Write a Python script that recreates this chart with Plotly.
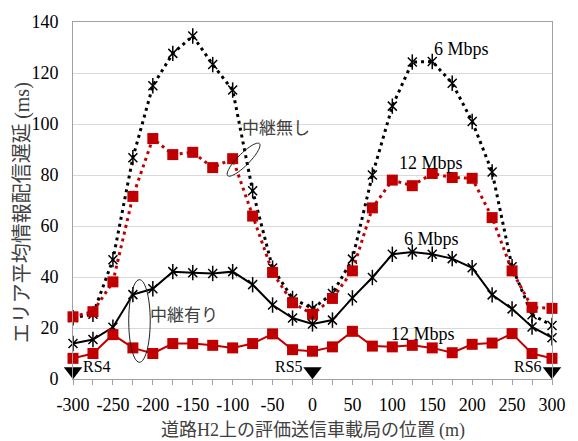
import numpy as np
import plotly.graph_objects as go

# ---------------- data ----------------
positions = list(range(-300, 301, 25))
no_relay_6mbps = [24.0, 25.4, 46.8, 86.8, 115.0, 127.7, 134.5, 123.3, 113.3, 73.8, 43.5, 31.6,
                  27.6, 33.5, 47.0, 80.0, 107.0, 124.3, 124.5, 116.0, 101.0, 81.2, 44.0, 25.2, 21.0]
no_relay_12mbps = [24.4, 26.4, 38.1, 71.6, 94.3, 88.0, 88.9, 82.9, 86.4, 63.9, 41.8, 29.9,
                   25.4, 31.6, 42.4, 67.1, 78.0, 75.8, 80.6, 79.0, 78.7, 63.3, 42.4, 28.1, 27.7]
relay_6mbps = [13.9, 15.5, 20.3, 33.1, 35.4, 42.1, 41.7, 41.4, 42.1, 37.0, 29.0, 23.9,
               21.6, 23.1, 31.8, 39.8, 48.9, 49.8, 48.9, 47.2, 43.6, 33.0, 27.5, 20.4, 16.2]
relay_12mbps = [8.1, 10.0, 17.4, 12.2, 10.0, 13.9, 13.9, 13.2, 12.2, 13.9, 17.7, 11.5,
                10.9, 12.6, 18.7, 12.9, 12.6, 13.2, 12.2, 10.3, 13.6, 14.1, 17.8, 10.0, 8.1]

rs_positions = [-300, 0, 300]
rs_labels = ["RS4", "RS5", "RS6"]
x_ticks = list(range(-300, 301, 50))
x_tick_labels = [str(v) for v in x_ticks]
y_ticks = list(range(0, 141, 20))
y_tick_labels = [str(v) for v in y_ticks]

series_labels = ["6 Mbps", "12 Mbps", "6 Mbps", "12 Mbps"]
series_label_pos = [(187, 129.3), (148, 84.8), (148.5, 54.9), (139, 17.8)]
group_labels = ["中継無し", "中継有り"]

# ---------------- style ----------------
RED = "#C00000"
SERIF = "Liberation Serif"
JP = "Noto Sans CJK JP"
W, H = 578, 441
ML, MR, MT, MB = 73, 15, 16, 62
PW, PH = W - ML - MR, H - MT - MB
XR = (-300, 300)
YR = (0, 140)
sx = PW / (XR[1] - XR[0])
sy = PH / (YR[1] - YR[0])
DOT = "3px,4px"

fig = go.Figure()


def star_trace(y, dash, width):
    fig.add_trace(go.Scatter(
        x=positions, y=y, mode="lines+markers",
        line=dict(color="black", width=width, dash=dash),
        marker=dict(symbol="x-thin-open", size=9, color="black",
                    line=dict(color="black", width=1.5)),
        cliponaxis=False, showlegend=False))
    fig.add_trace(go.Scatter(
        x=positions, y=y, mode="markers",
        marker=dict(symbol="line-ns-open", size=11, color="black",
                    line=dict(color="black", width=1.5)),
        cliponaxis=False, showlegend=False, hoverinfo="skip"))


def square_trace(y, dash, width):
    fig.add_trace(go.Scatter(
        x=positions, y=y, mode="lines+markers",
        line=dict(color=RED, width=width, dash=dash),
        marker=dict(symbol="square", size=11, color=RED),
        cliponaxis=False, showlegend=False))


star_trace(no_relay_6mbps, DOT, 3)
square_trace(no_relay_12mbps, DOT, 3)
star_trace(relay_6mbps, "solid", 2)
square_trace(relay_12mbps, "solid", 2)

# RS markers
fig.add_trace(go.Scatter(
    x=rs_positions, y=[3] * len(rs_positions), mode="markers",
    marker=dict(symbol="triangle-down", size=16, color="black"),
    cliponaxis=False, showlegend=False))

annotations = []
for xpos, lab in zip(rs_positions, rs_labels):
    left = xpos == rs_positions[0]
    annotations.append(dict(
        x=xpos, y=5, xref="x", yref="y", text=lab, showarrow=False,
        xanchor="left" if left else "right", xshift=8 if left else -8,
        font=dict(family=SERIF, size=16, color="black")))

for lab, (lx, ly) in zip(series_labels, series_label_pos):
    annotations.append(dict(x=lx, y=ly, xref="x", yref="y", text=lab, showarrow=False,
                            font=dict(family=SERIF, size=18, color="black")))

# group labels (中継無し / 中継有り)
annotations.append(dict(x=(281 - ML) / sx + XR[0], y=(379.3 - 123) / sy, xref="x", yref="y",
                        text=group_labels[0], showarrow=False,
                        font=dict(family=JP, size=17, color="#404040")))
annotations.append(dict(x=(187 - ML) / sx + XR[0], y=(379.3 - 313) / sy, xref="x", yref="y",
                        text=group_labels[1], showarrow=False,
                        font=dict(family=JP, size=17, color="#404040")))

# axis titles
annotations.append(dict(
    x=0, y=0.464, xref="paper", yref="paper", xshift=-53, textangle=-90,
    text="エリア平均情報配信遅延 <span style='font-family:Liberation Serif'>(ms)</span>",
    showarrow=False, xanchor="center", yanchor="middle",
    font=dict(family=JP, size=20, color="#404040")))
annotations.append(dict(
    x=0.5, y=0, xref="paper", yref="paper", yshift=-49,
    text="道路<span style='font-family:Liberation Serif'>H2</span>上の評価送信車載局の位置 "
         "<span style='font-family:Liberation Serif'>(m)</span>",
    showarrow=False, xanchor="center", yanchor="middle",
    font=dict(family=JP, size=18, color="#404040")))


def ellipse_path(cpx, cpy, a, b, ang_deg):
    t = np.linspace(0, 2 * np.pi, 60)
    ang = np.deg2rad(ang_deg)
    px = cpx + a * np.cos(t) * np.cos(ang) - b * np.sin(t) * np.sin(ang)
    py = cpy + a * np.cos(t) * np.sin(ang) + b * np.sin(t) * np.cos(ang)
    xd = (px - ML) / sx + XR[0]
    yd = (MT + PH - py) / sy
    pts = [f"{x:.3f},{y:.3f}" for x, y in zip(xd, yd)]
    return "M " + " L ".join(pts) + " Z"


shapes = [
    dict(type="path", xref="x", yref="y", path=ellipse_path(141, 320, 11, 42, 0),
         line=dict(color="#202020", width=1)),
    dict(type="path", xref="x", yref="y", path=ellipse_path(247.5, 156, 23, 6, -45),
         line=dict(color="#202020", width=1)),
]

fig.update_layout(
    width=W, height=H,
    margin=dict(l=ML, r=MR, t=MT, b=MB),
    paper_bgcolor="white", plot_bgcolor="white",
    showlegend=False,
    annotations=annotations,
    shapes=shapes,
    xaxis=dict(range=list(XR), tickvals=x_ticks, ticktext=x_tick_labels,
               ticks="outside", ticklen=5,
               tickcolor="#a0a0a0", minor=dict(dtick=25, tick0=0, ticks="outside", ticklen=5,
                                               tickcolor="#a0a0a0"),
               showgrid=False, zeroline=False, showline=True, linecolor="#a0a0a0",
               mirror=True, tickfont=dict(family=SERIF, size=18, color="black"),
               ticklabelstandoff=4),
    yaxis=dict(range=list(YR), tickvals=y_ticks, ticktext=y_tick_labels, ticks="",
               showgrid=True, gridcolor="#d9d9d9", gridwidth=1, zeroline=False,
               showline=True, linecolor="#a0a0a0", mirror=True,
               tickfont=dict(family=SERIF, size=18, color="black"),
               ticklabelstandoff=10),
)

fig.write_html("out.html",
               config={"displayModeBar": False},
               post_script="document.body.style.margin='0';document.body.style.overflow='hidden';")
